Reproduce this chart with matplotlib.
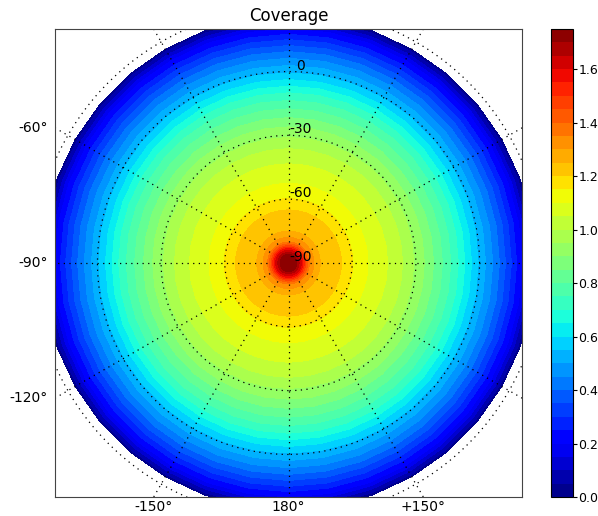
import numpy as np
import matplotlib
matplotlib.use("Agg")
import matplotlib.pyplot as plt

# coverage profile (axisymmetric around the south pole)
coverage_lats = [-90, -88, -86, -84, -82, -80, -78, -76, -74, -70, -65, -61, -59, -55,
                 -50, -45, -40, -35, -30, -25, -20, -15, -10, -5, 0, 5, 10, 15, 20, 26]
coverage_vals = [1.75, 1.74, 1.70, 1.60, 1.46, 1.34, 1.30, 1.27, 1.23, 1.21, 1.20, 1.19,
                 1.13, 1.11, 1.09, 1.06, 1.03, 0.99, 0.94, 0.89, 0.83, 0.77, 0.70, 0.62,
                 0.54, 0.47, 0.39, 0.30, 0.20, 0.02]
grid_lons = np.arange(-180, 181, 10)

parallels = [-60, -30, 0, 30]
parallel_labels = [0, -30, -60, -90]
meridians = list(range(-180, 180, 30))
left_lons = [-60, -90, -120]
left_labels = ["-60°", "-90°", "-120°"]
bottom_lons = [-150, 180, 150]
bottom_labels = ["-150°", "180°", "+150°"]
cbar_ticks = [0.0, 0.2, 0.4, 0.6, 0.8, 1.0, 1.2, 1.4, 1.6]

BOUND = 110  # half width of the map square, in degrees of colatitude


def proj(lon, lat):
    """south polar azimuthal equidistant, lon 0 pointing up"""
    r = np.asarray(lat, dtype=float) + 90.0
    th = np.deg2rad(lon)
    return r * np.sin(th), r * np.cos(th)


fig = plt.figure(figsize=(5.98, 5.16), dpi=100)
ax = fig.add_axes([55 / 598, 19 / 516, 467 / 598, 468 / 516])
cax = fig.add_axes([551 / 598, 19 / 516, 22 / 598, 468 / 516])

LON, LAT = np.meshgrid(grid_lons, coverage_lats)
Z = np.tile(np.array(coverage_vals)[:, None], (1, len(grid_lons)))
X, Y = proj(LON, LAT)

levels = np.arange(0, 1.751, 0.05)
cs = ax.contourf(X, Y, Z, levels=levels, cmap="jet")

dots = dict(color="k", lw=0.9, linestyle=(0, (1, 3.5)))
circ = np.linspace(-180, 180, 361)
for lat in parallels:
    px, py = proj(circ, np.full_like(circ, lat))
    ax.plot(px, py, **dots)
for lon in meridians:
    la = np.linspace(-80, 80, 200)
    px, py = proj(np.full_like(la, lon), la)
    ax.plot(px, py, **dots)

for lat in parallel_labels:
    x0, y0 = proj(0, lat)
    ax.annotate(str(lat), xy=(x0, y0), xytext=(12, 6), textcoords="offset pixels",
                ha="center", va="center", fontsize=10)

for lon, lab in zip(left_lons, left_labels):
    th = np.deg2rad(lon)
    y = BOUND / abs(np.sin(th)) * np.cos(th)
    ax.annotate(lab, xy=(-BOUND, y), xytext=(-7, 0), textcoords="offset pixels",
                ha="right", va="center", fontsize=10, annotation_clip=False)
for lon, lab in zip(bottom_lons, bottom_labels):
    th = np.deg2rad(lon)
    x = BOUND / abs(np.cos(th)) * np.sin(th)
    ax.annotate(lab, xy=(x, -BOUND), xytext=(0, -10), textcoords="offset pixels",
                ha="center", va="center", fontsize=10, annotation_clip=False)

ax.set_xlim(-BOUND, BOUND)
ax.set_ylim(-BOUND, BOUND)
ax.set_xticks([])
ax.set_yticks([])
for s in ax.spines.values():
    s.set_color("#444444")
ax.set_title("Coverage", fontsize=12, pad=6)

cb = fig.colorbar(cs, cax=cax, ticks=cbar_ticks)
cb.ax.tick_params(labelsize=9, length=3, pad=1)
cb.ax.set_yticklabels([f"{t:.1f}" for t in cbar_ticks])

fig.savefig("out.png", dpi=100)
